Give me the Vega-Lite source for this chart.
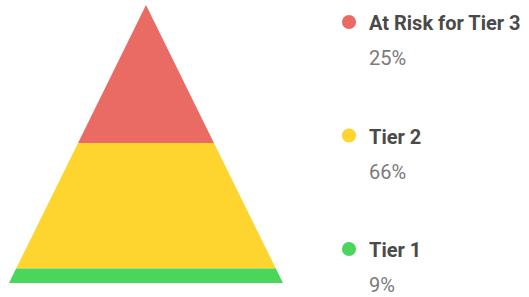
{
  "$schema": "https://vega.github.io/schema/vega-lite/v6.json",
  "padding": 0,
  "spacing": 0,
  "background": "white",
  "config": {"view": {"stroke": null}},
  "datasets": {
    "bands": [
      {"tier": "At Risk for Tier 3", "depth": 0.0, "lo": 0.0, "hi": 0.0},
      {"tier": "At Risk for Tier 3", "depth": 0.496, "lo": -0.496, "hi": 0.496},
      {"tier": "Tier 2", "depth": 0.496, "lo": -0.496, "hi": 0.496},
      {"tier": "Tier 2", "depth": 0.948, "lo": -0.948, "hi": 0.948},
      {"tier": "Tier 1", "depth": 0.948, "lo": -0.948, "hi": 0.948},
      {"tier": "Tier 1", "depth": 1.0, "lo": -1.0, "hi": 1.0}
    ],
    "tiers": [
      {"tier": "At Risk for Tier 3", "pct": 0.25},
      {"tier": "Tier 2", "pct": 0.66},
      {"tier": "Tier 1", "pct": 0.09}
    ]
  },
  "hconcat": [
    {
      "width": 330,
      "height": 297,
      "data": {"name": "bands"},
      "mark": {"type": "area", "orient": "horizontal"},
      "encoding": {
        "y": {"field": "depth", "type": "quantitative", "axis": null,
              "scale": {"domain": [-0.018, 1.0504], "reverse": true, "zero": false, "nice": false}},
        "x": {"field": "lo", "type": "quantitative", "axis": null, "stack": null,
              "scale": {"domain": [-1.0657, 1.3431], "zero": false, "nice": false}},
        "x2": {"field": "hi"},
        "color": {"field": "tier", "type": "nominal", "legend": null,
                  "scale": {"domain": ["At Risk for Tier 3", "Tier 2", "Tier 1"],
                            "range": ["#E96B64", "#FDD52E", "#4AD65A"]}}
      }
    },
    {
      "width": 38,
      "height": 271,
      "data": {"name": "tiers"},
      "encoding": {
        "y": {"field": "tier", "type": "nominal", "axis": null,
              "sort": ["At Risk for Tier 3", "Tier 2", "Tier 1"],
              "scale": {"type": "point", "padding": 0.194}}
      },
      "layer": [
        {
          "mark": {"type": "point", "filled": true, "shape": "circle", "size": 200, "opacity": 1},
          "encoding": {
            "color": {"field": "tier", "type": "nominal", "legend": null,
                      "scale": {"domain": ["At Risk for Tier 3", "Tier 2", "Tier 1"],
                                "range": ["#E96B64", "#FDD52E", "#4AD65A"]}}
          }
        },
        {
          "mark": {"type": "text", "align": "left", "baseline": "alphabetic", "dx": 20, "dy": 8,
                   "font": "Roboto", "fontWeight": "bold", "fontSize": 20, "color": "#4a4a4a"},
          "encoding": {"text": {"field": "tier"}}
        },
        {
          "mark": {"type": "text", "align": "left", "baseline": "alphabetic", "dx": 20, "dy": 43,
                   "font": "Roboto", "fontSize": 20, "color": "#7a7a7a"},
          "encoding": {"text": {"field": "pct", "type": "quantitative", "format": ".0%"}}
        }
      ]
    }
  ]
}
